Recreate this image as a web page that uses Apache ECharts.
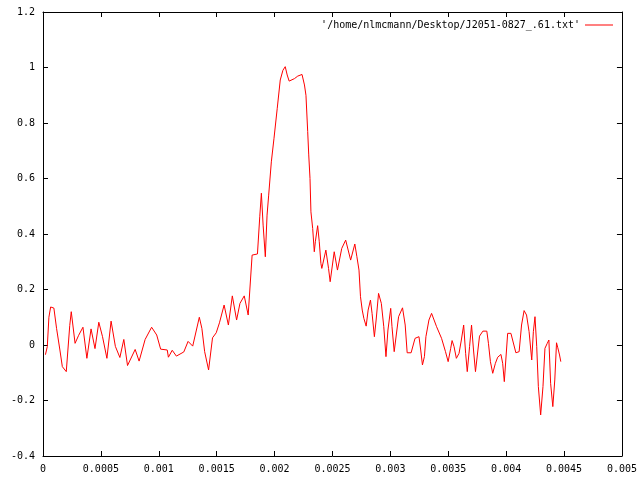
<!DOCTYPE html>
<html>
<head>
<meta charset="utf-8">
<script src="https://cdn.jsdelivr.net/npm/echarts@6/dist/echarts.min.js"></script>
<style>html,body{margin:0;padding:0;background:#fff}#c{width:640px;height:480px}</style>
</head>
<body>
<div id="c"></div>
<script>
// time values in microseconds (converted to seconds below)
var timeMicro = [21,37,51,66,94,117,146,167,201,214,231,244,277,308,345,379,415,449,482,514,552,588,625,664,698,730,796,830,882,938,982,1016,1073,1083,1116,1152,1216,1253,1293,1350,1372,1396,1430,1464,1496,1524,1564,1601,1635,1672,1701,1738,1772,1806,1852,1872,1886,1901,1920,1935,1949,1972,1995,2023,2049,2072,2092,2109,2126,2172,2200,2237,2258,2271,2286,2295,2306,2314,2329,2343,2352,2372,2386,2400,2408,2443,2466,2480,2515,2543,2580,2614,2657,2693,2711,2729,2742,2757,2771,2791,2808,2828,2842,2862,2877,2898,2922,2943,2962,2979,3003,3014,3033,3051,3071,3105,3128,3145,3179,3213,3247,3262,3277,3294,3307,3333,3356,3399,3442,3476,3499,3521,3533,3550,3570,3593,3613,3633,3650,3664,3684,3701,3718,3735,3756,3770,3799,3833,3847,3864,3884,3907,3927,3955,3970,3984,4013,4041,4084,4112,4133,4155,4176,4198,4221,4235,4249,4264,4278,4298,4318,4335,4355,4369,4384,4403,4420,4435,4446,4461,4472];
var amplitude = [-0.035,-0.006,0.10,0.137,0.133,0.06,-0.018,-0.078,-0.096,-0.1,0.07,0.12,0.006,0.035,0.064,-0.048,0.058,-0.013,0.082,0.03,-0.048,0.086,-0.005,-0.045,0.02,-0.074,-0.016,-0.058,0.02,0.064,0.036,-0.015,-0.018,-0.044,-0.019,-0.04,-0.025,0.013,-0.004,0.1,0.06,-0.024,-0.09,0.026,0.044,0.08,0.144,0.072,0.177,0.09,0.15,0.177,0.108,0.324,0.328,0.462,0.547,0.432,0.318,0.468,0.54,0.66,0.745,0.853,0.955,0.99,1.003,0.973,0.951,0.96,0.969,0.975,0.937,0.9,0.769,0.685,0.6,0.48,0.42,0.336,0.372,0.43,0.372,0.294,0.276,0.342,0.276,0.228,0.336,0.27,0.348,0.378,0.306,0.364,0.318,0.27,0.174,0.126,0.096,0.068,0.126,0.162,0.114,0.03,0.09,0.186,0.15,0.066,-0.042,0.054,0.132,0.066,-0.024,0.036,0.102,0.134,0.072,-0.028,-0.028,0.024,0.03,-0.018,-0.072,-0.042,0.03,0.09,0.114,0.066,0.024,-0.024,-0.06,-0.012,0.016,-0.006,-0.048,-0.03,0.018,0.072,-0.03,-0.096,-0.006,0.072,-0.018,-0.096,-0.018,0.032,0.05,0.05,0.006,-0.06,-0.102,-0.066,-0.044,-0.034,-0.066,-0.132,0.042,0.042,-0.028,-0.024,0.072,0.124,0.108,0.048,-0.054,0.048,0.102,-0.006,-0.15,-0.252,-0.15,-0.012,0.006,0.018,-0.138,-0.222,-0.126,0.008,-0.01,-0.036,-0.06];
var seriesName = "'/home/nlmcmann/Desktop/J2051-0827_.61.txt'";
var xTicks = {min: 0, max: 0.005, interval: 0.0005};
var yTicks = {min: -0.4, max: 1.2, interval: 0.2};

var points = timeMicro.map(function (t, i) { return [t * 1e-6, amplitude[i]]; });
var font = 'DejaVu Sans Mono';
var axisLine = {show: true, onZero: false, lineStyle: {color: '#000', width: 1}};
var tick = {show: true, inside: true, length: 5, lineStyle: {color: '#000'}};

var chart = echarts.init(document.getElementById('c'), null, {renderer: 'canvas'});
chart.setOption({
  animation: false,
  backgroundColor: '#fff',
  grid: {left: 43, right: 13, top: 12, bottom: 24},
  legend: {
    right: 22, top: 15, align: 'right', icon: 'rect', itemWidth: 28, itemHeight: 1, itemGap: 0,
    textStyle: {fontFamily: font, fontSize: 10, color: '#000'},
    data: [seriesName]
  },
  xAxis: [
    {type: 'value', min: xTicks.min, max: xTicks.max, interval: xTicks.interval, position: 'bottom',
     axisLine: axisLine, axisTick: tick, splitLine: {show: false},
     axisLabel: {margin: 8, fontFamily: font, fontSize: 10, color: '#000',
       formatter: function (v) { return String(+v.toFixed(4)); }}},
    {type: 'value', min: xTicks.min, max: xTicks.max, interval: xTicks.interval, position: 'top',
     axisLine: axisLine, axisTick: tick, splitLine: {show: false}, axisLabel: {show: false}}
  ],
  yAxis: [
    {type: 'value', min: yTicks.min, max: yTicks.max, interval: yTicks.interval, position: 'left',
     axisLine: axisLine, axisTick: tick, splitLine: {show: false},
     axisLabel: {margin: 8, fontFamily: font, fontSize: 10, color: '#000',
       formatter: function (v) { return String(+v.toFixed(1)); }}},
    {type: 'value', min: yTicks.min, max: yTicks.max, interval: yTicks.interval, position: 'right',
     axisLine: axisLine, axisTick: tick, splitLine: {show: false}, axisLabel: {show: false}}
  ],
  series: [{
    name: seriesName, type: 'line', data: points, showSymbol: false, symbol: 'none',
    lineStyle: {color: '#ff0000', width: 1}, itemStyle: {color: '#ff0000'}
  }]
});
</script>
</body>
</html>
